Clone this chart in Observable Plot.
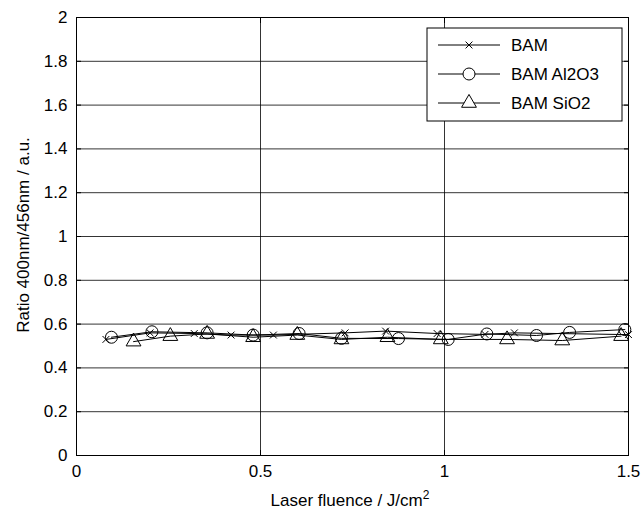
<!DOCTYPE html>
<html><head><meta charset="utf-8">
<script src="https://cdn.jsdelivr.net/npm/d3@7"></script>
<script src="https://cdn.jsdelivr.net/npm/@observablehq/plot@0.6"></script>
<style>
body{margin:0;background:#fff;}
#chart{width:641px;height:514px;}
svg text{font-family:"Liberation Sans",Arial,Helvetica,sans-serif;}
</style>
</head><body><div id="chart"></div>
<script>
// ---- data ----
const seriesNames = ["BAM", "BAM Al2O3", "BAM SiO2"];
const bamX = [0.08, 0.20, 0.32, 0.42, 0.535, 0.73, 0.84, 0.98, 1.11, 1.19, 1.50];
const bamY = [0.53, 0.56, 0.557, 0.55, 0.55, 0.56, 0.568, 0.557, 0.553, 0.56, 0.552];
const alX = [0.095, 0.205, 0.355, 0.48, 0.605, 0.72, 0.875, 1.01, 1.115, 1.25, 1.34, 1.49];
const alY = [0.54, 0.565, 0.56, 0.55, 0.557, 0.535, 0.534, 0.53, 0.555, 0.548, 0.562, 0.575];
const siX = [0.155, 0.255, 0.355, 0.48, 0.60, 0.72, 0.845, 0.99, 1.17, 1.32, 1.48];
const siY = [0.52, 0.545, 0.555, 0.54, 0.55, 0.53, 0.54, 0.53, 0.53, 0.525, 0.545];
const xTicks = [0, 0.5, 1, 1.5];
const yTicks = [0, 0.2, 0.4, 0.6, 0.8, 1, 1.2, 1.4, 1.6, 1.8, 2];
const xLabel = "Laser fluence / J/cm";
const xLabelSup = "2";
const yLabel = "Ratio 400nm/456nm / a.u.";

const symbols = ["times", "circle", "triangle"];
const radii = [3.2, 6, 5.5];
const rows = [];
[[bamX, bamY], [alX, alY], [siX, siY]].forEach(([xs, ys], i) => {
  xs.forEach((x, j) => rows.push({series: seriesNames[i], x, y: ys[j]}));
});
const fmt = d3.format("~g");
const blank = () => "";

const marks = [
  Plot.gridX(xTicks.slice(1, -1), {stroke: "#000", strokeOpacity: 1, strokeWidth: 0.8}),
  Plot.gridY(yTicks.slice(1, -1), {stroke: "#000", strokeOpacity: 1, strokeWidth: 0.8}),
  Plot.frame({stroke: "#000", strokeWidth: 1}),
  Plot.axisX({ticks: xTicks, tickSize: -5, tickPadding: 14, tickFormat: fmt, label: null, fontSize: 17}),
  Plot.axisX({ticks: xTicks, tickSize: -5, anchor: "top", tickFormat: blank, label: null}),
  Plot.axisY({ticks: yTicks, tickSize: -5, tickPadding: 14, tickFormat: fmt, label: null, fontSize: 17}),
  Plot.axisY({ticks: yTicks, tickSize: -5, anchor: "right", tickFormat: blank, label: null})
];
seriesNames.forEach((name, i) => {
  const d = rows.filter(r => r.series === name);
  marks.push(Plot.line(d, {x: "x", y: "y", stroke: "#000", strokeWidth: 1}));
  marks.push(Plot.dot(d, {x: "x", y: "y", symbol: () => symbols[i], r: radii[i], stroke: "#000", fill: "none", strokeWidth: 1}));
});

const plot = Plot.plot({
  width: 641, height: 514,
  marginLeft: 76, marginRight: 13, marginTop: 17, marginBottom: 59,
  x: {domain: [0, 1.5]},
  y: {domain: [0, 2]},
  symbol: {type: "identity"},
  style: {fontFamily: "Liberation Sans, Arial, sans-serif", fontSize: "17px", color: "#000", background: "#fff"},
  marks
});
document.getElementById("chart").appendChild(plot);

// axis titles
const svg = d3.select(plot);
const xt = svg.append("text").attr("x", 350).attr("y", 506).attr("text-anchor", "middle")
  .attr("font-size", 17).attr("fill", "#000").text(xLabel);
xt.append("tspan").attr("dy", -7).attr("font-size", 12).text(xLabelSup);
svg.append("text").attr("transform", "translate(23,235) rotate(-90)").attr("text-anchor", "middle")
  .attr("dy", "0.35em").attr("font-size", 17).attr("fill", "#000").text(yLabel);

// legend
const lg = svg.append("g");
lg.append("rect").attr("x", 427).attr("y", 28).attr("width", 195).attr("height", 93)
  .attr("fill", "#fff").attr("stroke", "#000").attr("stroke-width", 1);
const rowY = [45, 74, 103];
seriesNames.forEach((name, i) => {
  lg.append("line").attr("x1", 438).attr("x2", 500).attr("y1", rowY[i]).attr("y2", rowY[i]).attr("stroke", "#000");
  const sym = [d3.symbolTimes, d3.symbolCircle, d3.symbolTriangle][i];
  const size = Math.PI * radii[i] * radii[i];
  lg.append("path").attr("d", d3.symbol(sym, size)()).attr("transform", `translate(469,${rowY[i]})`)
    .attr("fill", "#fff").attr("stroke", "#000");
  lg.append("text").attr("x", 511).attr("y", rowY[i]).attr("dy", "0.35em").attr("text-anchor", "start")
    .attr("font-size", 17).attr("fill", "#000").text(name);
});
</script>
</body></html>
